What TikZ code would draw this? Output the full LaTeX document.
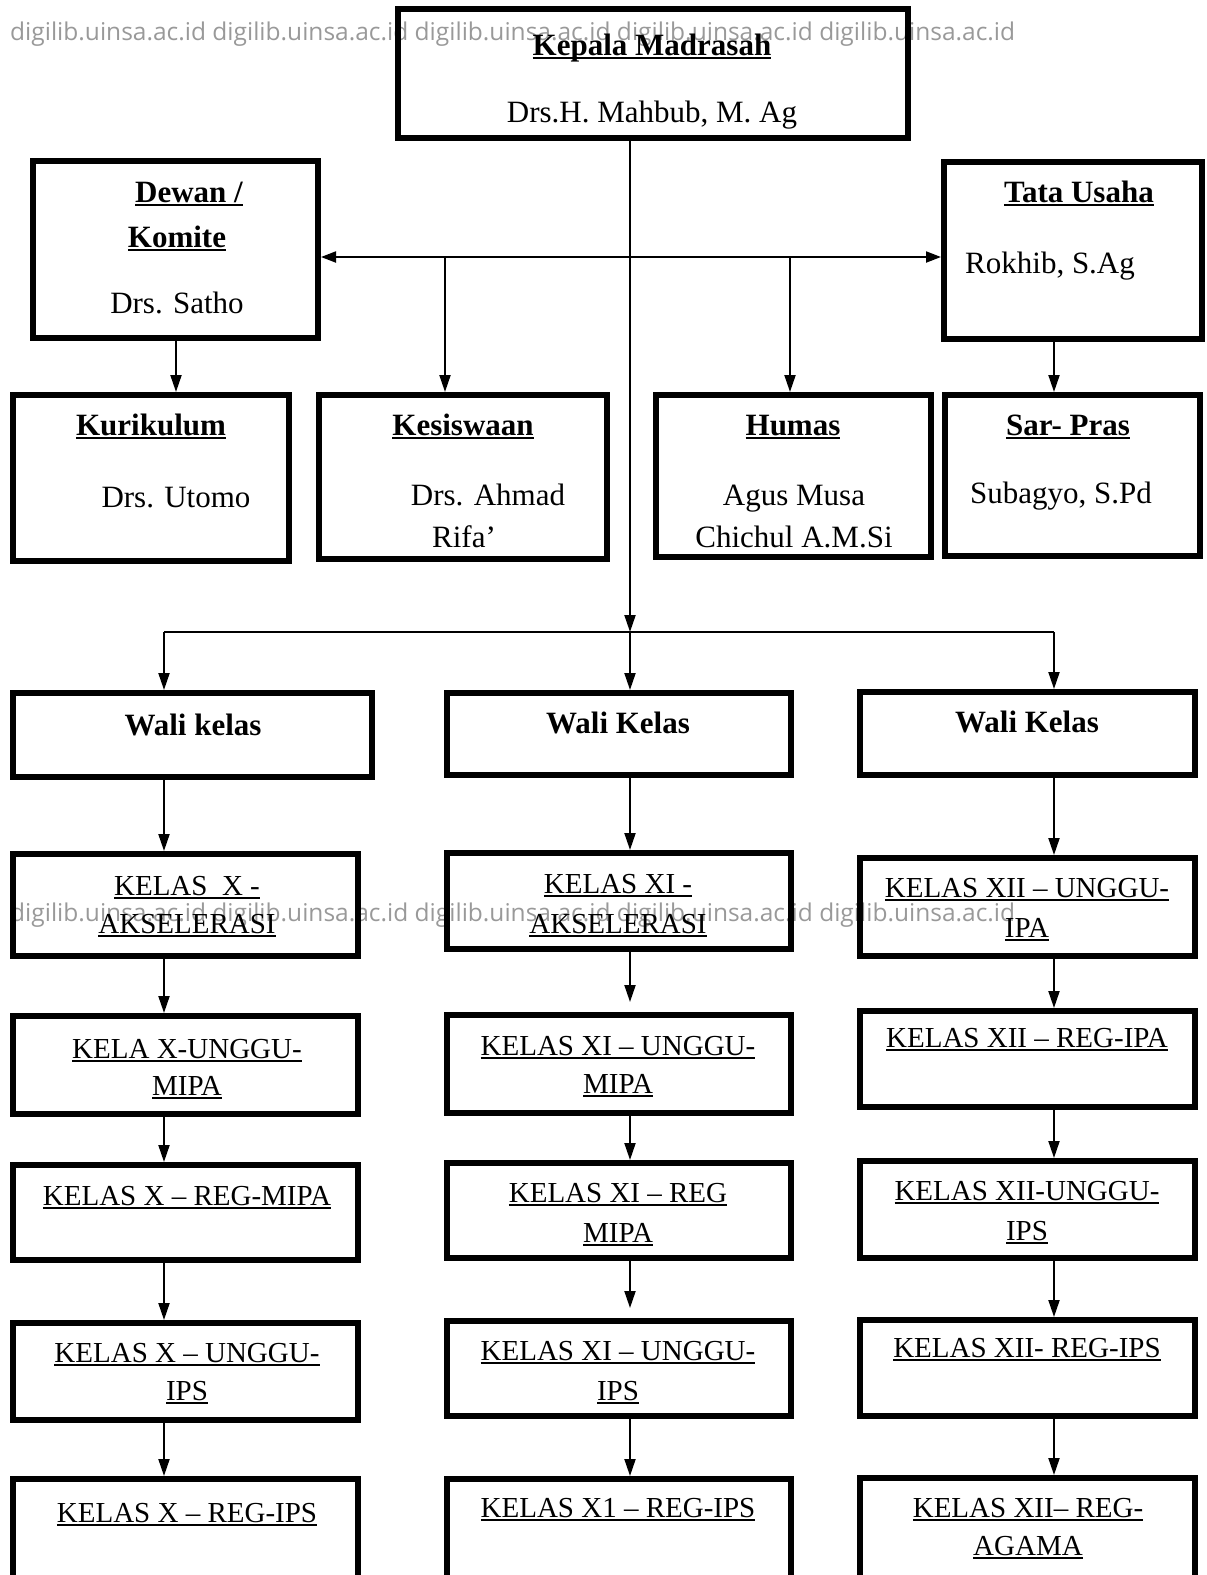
\documentclass[tikz,border=0pt]{standalone}
\usepackage{fontspec}
\setmainfont{Liberation Serif}
\newfontfamily\wmfont{Open Sans}
\usetikzlibrary{arrows.meta}
\newcommand\myul[1]{\setbox0\hbox{#1}\rlap{\rule[-4pt]{\wd0}{2pt}}\box0}
\newcommand\bx[5]{\node[bx, minimum width={#4-#2-6}, minimum height={#5-#3-6}] (#1) at ({(#2+#4)/2},{(#3+#5)/2}) {};}
\begin{document}
\begin{tikzpicture}[x=1pt,y=-1pt,
 bx/.style={draw, line width=6pt, inner sep=0pt},
 hd/.style={anchor=base, inner sep=0pt, font=\fontsize{31}{36}\selectfont\bfseries},
 nm/.style={anchor=base, inner sep=0pt, font=\fontsize{31}{36}\selectfont},
 kl/.style={anchor=base, inner sep=0pt, font=\fontsize{29}{34}\selectfont},
 ln/.style={line width=2pt},
 arr/.style={ln, -{Triangle[length=17pt,width=11pt]}},
 arr2/.style={ln, {Triangle[length=15pt,width=11pt]}-{Triangle[length=15pt,width=11pt]}},
 wm/.style={anchor=base west, inner sep=0pt, font=\wmfont\fontsize{24.5}{28}\selectfont, text=black, text opacity=0.4}]
\useasboundingbox (0,0) rectangle (1207,1575);
\clip (0,0) rectangle (1207,1575);
\fill[white] (0,0) rectangle (1207,1575);

% boxes
\bx{kep}{395}{6}{911}{141}
\bx{dew}{30}{158}{321}{341}
\bx{tat}{941}{159}{1205}{342}
\bx{kur}{10}{392}{292}{564}
\bx{kes}{316}{392}{610}{562}
\bx{hum}{653}{392}{934}{560}
\bx{sar}{942}{392}{1203}{559}
\bx{w1}{10}{690}{375}{780}
\bx{w2}{444}{690}{794}{778}
\bx{w3}{857}{689}{1198}{778}
\bx{k11}{10}{851}{361}{959}
\bx{k12}{10}{1013}{361}{1117}
\bx{k13}{10}{1162}{361}{1263}
\bx{k14}{10}{1320}{361}{1423}
\bx{k15}{10}{1476}{361}{1600}
\bx{k21}{444}{850}{794}{952}
\bx{k22}{444}{1012}{794}{1116}
\bx{k23}{444}{1160}{794}{1261}
\bx{k24}{444}{1318}{794}{1419}
\bx{k25}{444}{1476}{794}{1600}
\bx{k31}{857}{855}{1198}{959}
\bx{k32}{857}{1008}{1198}{1110}
\bx{k33}{857}{1158}{1198}{1261}
\bx{k34}{857}{1317}{1198}{1419}
\bx{k35}{857}{1475}{1198}{1600}

% texts
\node[hd] (t-kep1) at (652,55) {\myul{Kepala Madrasah}};
\node[nm] (t-kep2) at (652,122) {Drs.H. Mahbub, M. Ag};
\node[hd] (t-dew1) at (189,202) {\myul{Dewan /}};
\node[hd] (t-dew2) at (177,247) {\myul{Komite}};
\node[nm] (t-dew3) at (177,313) {Drs. Satho};
\node[hd] (t-tat1) at (1079,202) {\myul{Tata Usaha}};
\node[nm,anchor=base west] (t-tat2) at (965,273) {Rokhib, S.Ag};
\node[hd] (t-kur1) at (151,435) {\myul{Kurikulum}};
\node[nm] (t-kur2) at (176,507) {Drs. Utomo};
\node[hd] (t-kes1) at (463,435) {\myul{Kesiswaan}};
\node[nm] (t-kes2) at (488,505) {Drs. Ahmad};
\node[nm] (t-kes3) at (464,547) {Rifa’};
\node[hd] (t-hum1) at (793,435) {\myul{Humas}};
\node[nm] (t-hum2) at (794,505) {Agus Musa};
\node[nm] (t-hum3) at (794,547) {Chichul A.M.Si};
\node[hd] (t-sar1) at (1068,435) {\myul{Sar- Pras}};
\node[nm] (t-sar2) at (1061,503) {Subagyo, S.Pd};
\node[hd] (t-w1) at (193,735) {Wali kelas};
\node[hd] (t-w2) at (618,733) {Wali Kelas};
\node[hd] (t-w3) at (1027,732) {Wali Kelas};

\node[kl] (t-k11a) at (187,895) {\myul{KELAS\ \ X -}};
\node[kl] (t-k11b) at (187,933) {\myul{AKSELERASI}};
\node[kl] (t-k12a) at (187,1058) {\myul{KELA X-UNGGU-}};
\node[kl] (t-k12b) at (187,1095) {\myul{MIPA}};
\node[kl] (t-k13a) at (187,1205) {\myul{KELAS X – REG-MIPA}};
\node[kl] (t-k14a) at (187,1362) {\myul{KELAS X – UNGGU-}};
\node[kl] (t-k14b) at (187,1400) {\myul{IPS}};
\node[kl] (t-k15a) at (187,1522) {\myul{KELAS X – REG-IPS}};

\node[kl] (t-k21a) at (618,893) {\myul{KELAS XI -}};
\node[kl] (t-k21b) at (618,933) {\myul{AKSELERASI}};
\node[kl] (t-k22a) at (618,1055) {\myul{KELAS XI – UNGGU-}};
\node[kl] (t-k22b) at (618,1093) {\myul{MIPA}};
\node[kl] (t-k23a) at (618,1202) {\myul{KELAS XI – REG}};
\node[kl] (t-k23b) at (618,1242) {\myul{MIPA}};
\node[kl] (t-k24a) at (618,1360) {\myul{KELAS XI – UNGGU-}};
\node[kl] (t-k24b) at (618,1400) {\myul{IPS}};
\node[kl] (t-k25a) at (618,1517) {\myul{KELAS X1 – REG-IPS}};

\node[kl] (t-k31a) at (1027,897) {\myul{KELAS XII – UNGGU-}};
\node[kl] (t-k31b) at (1027,937) {\myul{IPA}};
\node[kl] (t-k32a) at (1027,1047) {\myul{KELAS XII – REG-IPA}};
\node[kl] (t-k33a) at (1027,1200) {\myul{KELAS XII-UNGGU-}};
\node[kl] (t-k33b) at (1027,1240) {\myul{IPS}};
\node[kl] (t-k34a) at (1027,1357) {\myul{KELAS XII- REG-IPS}};
\node[kl] (t-k35a) at (1028,1517) {\myul{KELAS XII– REG-}};
\node[kl] (t-k35b) at (1028,1555) {\myul{AGAMA}};

% connector coordinates
\coordinate (yT) at (0,257);
\coordinate (yB) at (0,632);
\coordinate (c1) at (164,0);
\coordinate (c2) at (630,0);
\coordinate (c3) at (1054,0);
\coordinate (cK) at (445,0);
\coordinate (cH) at (790,0);
\coordinate (cD) at (176,0);

\draw[arr2] (dew.east |- yT) -- (tat.west |- yT);
\draw[arr] (cK |- yT) -- (cK |- kes.north);
\draw[arr] (cH |- yT) -- (cH |- hum.north);
\draw[arr] (cD |- dew.south) -- (cD |- kur.north);
\draw[arr] (c3 |- tat.south) -- (c3 |- sar.north);
\draw[arr] (c2 |- kep.south) -- (c2 |- yB);
\draw[ln] (c1 |- yB) -- (c3 |- yB);
\draw[arr] (c1 |- yB) -- (c1 |- w1.north);
\draw[arr] (c2 |- yB) -- (c2 |- w2.north);
\draw[arr] (c3 |- yB) -- (c3 |- w3.north);

\draw[arr] (c1 |- w1.south) -- (c1 |- k11.north);
\draw[arr] (c1 |- k11.south) -- (c1 |- k12.north);
\draw[arr] (c1 |- k12.south) -- (c1 |- k13.north);
\draw[arr] (c1 |- k13.south) -- (c1 |- k14.north);
\draw[arr] (c1 |- k14.south) -- (c1 |- k15.north);

\draw[arr] (c2 |- w2.south) -- (c2 |- k21.north);
\draw[arr, shorten >=10pt] (c2 |- k21.south) -- (c2 |- k22.north);
\draw[arr] (c2 |- k22.south) -- (c2 |- k23.north);
\draw[arr, shorten >=10pt] (c2 |- k23.south) -- (c2 |- k24.north);
\draw[arr] (c2 |- k24.south) -- (c2 |- k25.north);

\draw[arr] (c3 |- w3.south) -- (c3 |- k31.north);
\draw[arr] (c3 |- k31.south) -- (c3 |- k32.north);
\draw[arr] (c3 |- k32.south) -- (c3 |- k33.north);
\draw[arr] (c3 |- k33.south) -- (c3 |- k34.north);
\draw[arr] (c3 |- k34.south) -- (c3 |- k35.north);

% watermark
\node[wm] (wm1) at (10,40) {digilib.uinsa.ac.id digilib.uinsa.ac.id digilib.uinsa.ac.id digilib.uinsa.ac.id digilib.uinsa.ac.id};
\node[wm] (wm2) at (10,921) {digilib.uinsa.ac.id digilib.uinsa.ac.id digilib.uinsa.ac.id digilib.uinsa.ac.id digilib.uinsa.ac.id};
\end{tikzpicture}
\end{document}
